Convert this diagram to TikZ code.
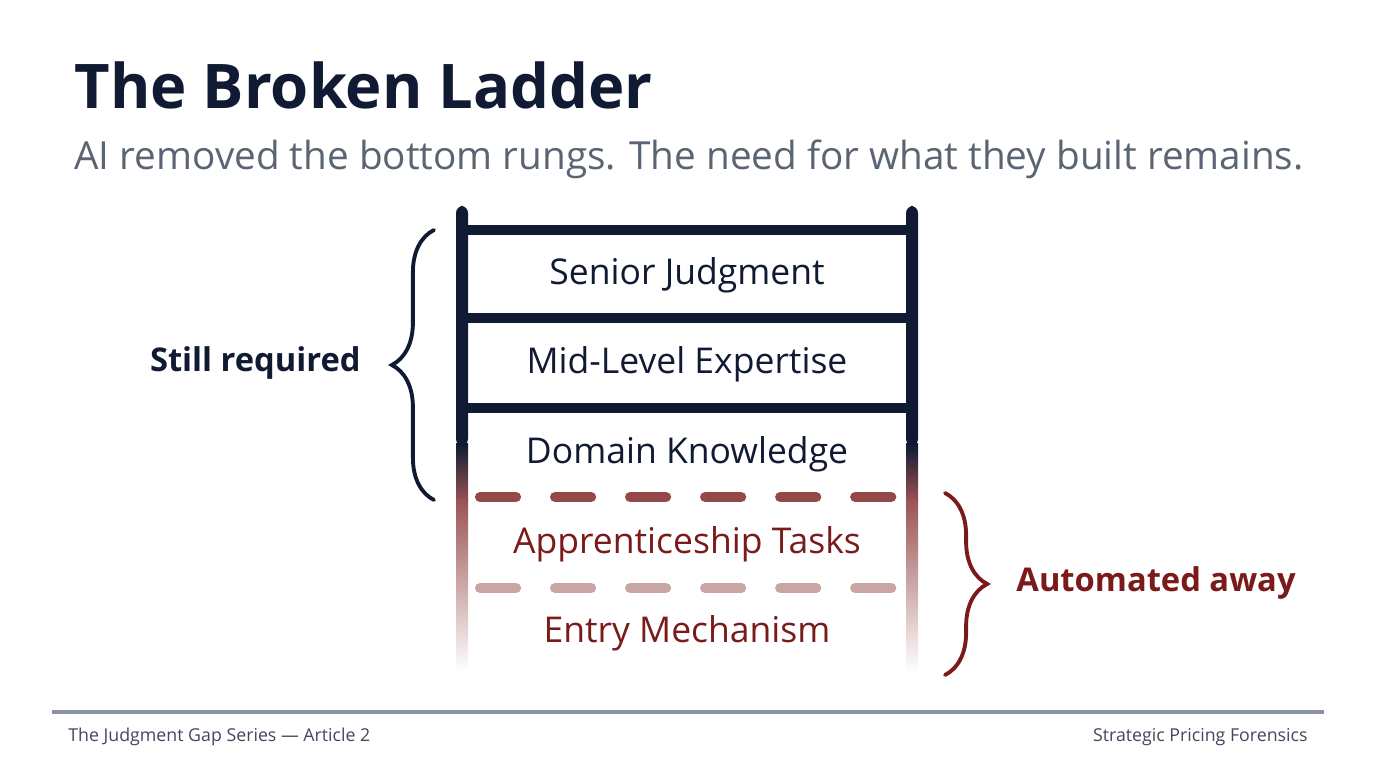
\documentclass[tikz,border=0pt]{standalone}
\usepackage{fontspec}
\setmainfont{Open Sans}
\usetikzlibrary{decorations.pathreplacing}
\definecolor{navy}{HTML}{111A33}
\definecolor{brick}{HTML}{7A1A1A}
\definecolor{slate}{HTML}{5A6472}
\definecolor{pinkish}{HTML}{C9A5A3}
\tikzset{
  rung/.style={line width=2.9pt, navy},
  cut/.style={line width=2.9pt, dash pattern=on 0.36cm off 0.39cm, line cap=round},
  rungtext/.style={font=\fontsize{10.1}{12}\selectfont},
  brace/.style={decorate, decoration={brace, amplitude=12}, line width=1.1pt, line cap=round},
  side/.style={font=\fontsize{9.3}{11}\selectfont\bfseries},
  foot/.style={font=\fontsize{5.05}{6}\selectfont, text=navy!80}
}
\begin{document}
\begin{tikzpicture}[x=0.01cm, y=-0.01cm]

    \useasboundingbox (0,0) rectangle (1376,768);

    % Title and subtitle
    \node[anchor=base west, font=\fontsize{17.5}{21}\selectfont\bfseries, text=navy] (title) at (62,109) {The Broken Ladder};
    \node[anchor=base west, font=\fontsize{11}{14}\selectfont, text=slate] (subtitle) at (62,170) {AI removed the bottom rungs. The need for what they built remains.};

    % Rails, fading from solid to red to nothing
    \foreach \x in {456,906} {
        \fill[navy, rounded corners=2] (\x,206) rectangle (\x+12,446);
        \shade[top color=navy, bottom color=brick!75] (\x,444) rectangle (\x+12,502);
        \shade[top color=brick!75, bottom color=white] (\x,500) rectangle (\x+12,672);
    }

    % Solid rungs
    \draw[rung] (462,230) -- (912,230);
    \draw[rung] (462,318) -- (912,318);
    \draw[rung] (462,408) -- (912,408);

    % Broken rungs
    \draw[cut, brick!80] (480,497) -- (912,497);
    \draw[cut, pinkish] (480,588) -- (912,588);

    % Rung labels
    \node[rungtext, text=navy] (senior) at (687,275) {Senior Judgment};
    \node[rungtext, text=navy] (mid) at (687,364) {Mid-Level Expertise};
    \node[rungtext, text=navy] (domain) at (687,454) {Domain Knowledge};
    \node[rungtext, text=brick] (appr) at (687,544) {Apprenticeship Tasks};
    \node[rungtext, text=brick] (entry) at (687,633) {Entry Mechanism};

    % Braces
    \draw[brace, navy] (434,500) -- (434,230);
    \draw[brace, brick] (945,493) -- (945,675);
    \node[side, text=navy, anchor=east] (still) at (373,363) {Still required};
    \node[side, text=brick, anchor=west] (auto) at (1004,583) {Automated away};

    % Footer
    \draw[slate!70, line width=1pt] (52,712) -- (1324,712);
    \node[foot, anchor=west] (series) at (56,737) {The Judgment Gap Series — Article 2};
    \node[foot, anchor=east] (brand) at (1320,737) {Strategic Pricing Forensics};

\end{tikzpicture}
\end{document}
